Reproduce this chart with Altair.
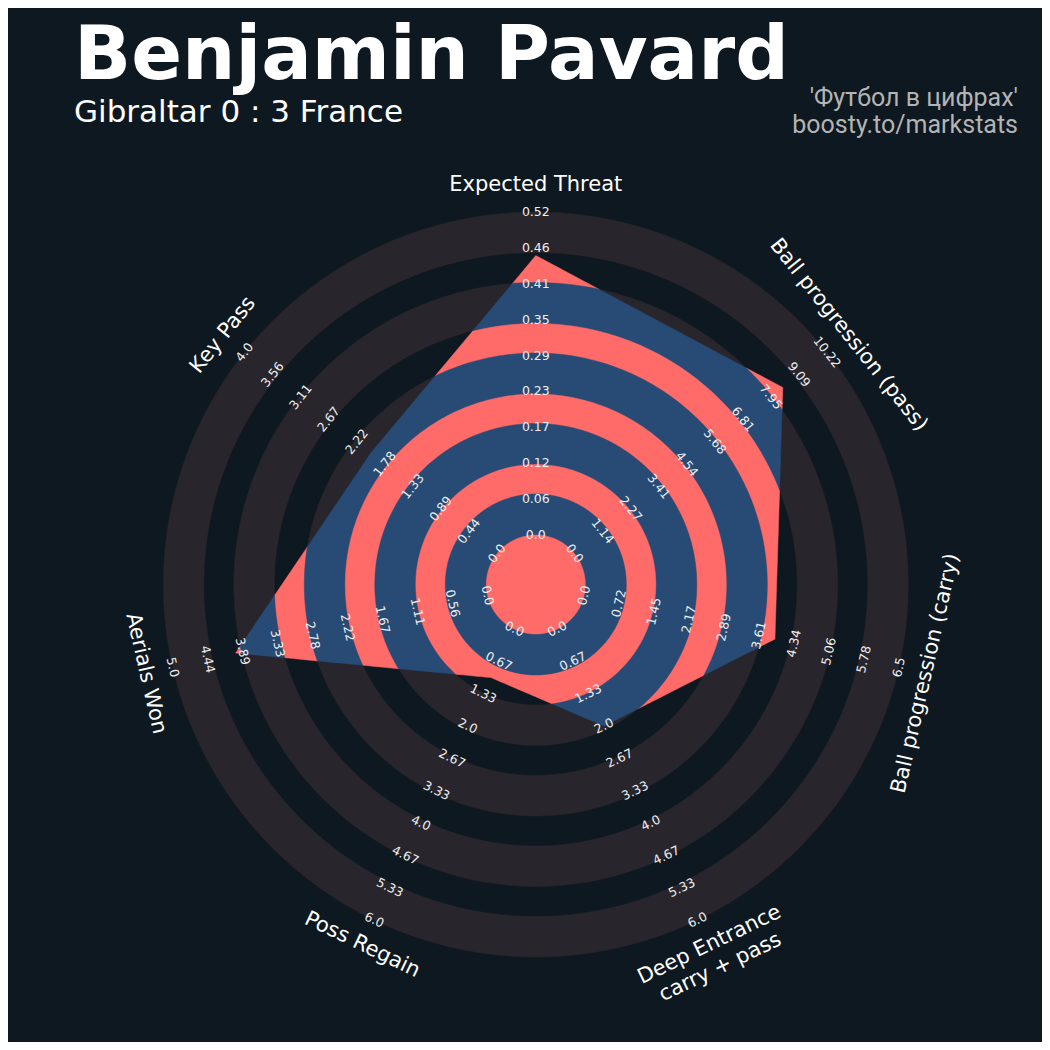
import math
import numpy as np
import pandas as pd
import altair as alt

# ---------------- data ----------------
PARAMS = ["Expected Threat", "Ball progression (pass)", "Ball progression (carry)",
          "Deep Entrance\ncarry + pass", "Poss Regain", "Aerials Won", "Key Pass"]
LOW = [0, 0, 0, 0, 0, 0, 0]
HIGH = [0.52, 10.22, 6.5, 6.0, 6.0, 5.0, 4.0]
VALUES = [0.45, 8.43, 3.94, 2.0, 1.0, 4.0, 2.0]

TICKS_XT = ["0.0", "0.06", "0.12", "0.17", "0.23", "0.29", "0.35", "0.41", "0.46", "0.52"]
TICKS_PASS = ["0.0", "1.14", "2.27", "3.41", "4.54", "5.68", "6.81", "7.95", "9.09", "10.22"]
TICKS_CARRY = ["0.0", "0.72", "1.45", "2.17", "2.89", "3.61", "4.34", "5.06", "5.78", "6.5"]
TICKS_DEEP = ["0.0", "0.67", "1.33", "2.0", "2.67", "3.33", "4.0", "4.67", "5.33", "6.0"]
TICKS_REGAIN = ["0.0", "0.67", "1.33", "2.0", "2.67", "3.33", "4.0", "4.67", "5.33", "6.0"]
TICKS_AERIAL = ["0.0", "0.56", "1.11", "1.67", "2.22", "2.78", "3.33", "3.89", "4.44", "5.0"]
TICKS_KEY = ["0.0", "0.44", "0.89", "1.33", "1.78", "2.22", "2.67", "3.11", "3.56", "4.0"]
TICKS = [TICKS_XT, TICKS_PASS, TICKS_CARRY, TICKS_DEEP, TICKS_REGAIN, TICKS_AERIAL, TICKS_KEY]

TITLE = "Benjamin Pavard"
SUBTITLE = "Gibraltar 0 : 3 France"
CREDIT_1 = "'Футбол в цифрах'"
CREDIT_2 = "boosty.to/markstats"

# ---------------- style / geometry ----------------
W = H = 1034
CX, CY = 527.8, 576.5          # radar centre inside the view
R_IN, R_OUT = 49.5, 372.5       # value 0 and value max radii
RING_EDGES = [372.5, 331.5, 302.0, 261.0, 231.5, 190.5, 161.0, 120.0, 90.5, 49.5]
LABEL_R = 400.0
DELTA = 3.0                     # pull-in of hidden edges (avoids anti-alias fringes)

BG = "#0e1820"
GREY = "#28252c"
NAVY = "#274b75"
PINK = "#ff6b68"

N = len(PARAMS)
STEP = 2 * math.pi / N
ANG = [k * STEP for k in range(N)]
TWO_PI = 2 * math.pi


def to_r(v, lo, hi):
    return R_IN + (v - lo) / (hi - lo) * (R_OUT - R_IN)


verts = []
for k in range(N):
    r = to_r(VALUES[k], LOW[k], HIGH[k])
    verts.append((r * math.sin(ANG[k]), r * math.cos(ANG[k])))


def cross(a, b):
    return a[0] * b[1] - a[1] * b[0]


def rho(t):
    t = t % TWO_PI
    k = int(math.floor(t / STEP + 1e-9)) % N
    P = verts[k]
    Q = verts[(k + 1) % N]
    E = (Q[0] - P[0], Q[1] - P[1])
    d = (math.sin(t), math.cos(t))
    return cross(P, E) / cross(d, E)


# sample angles: regular + vertices + ring/edge crossings
angles = set(np.round(np.radians(np.arange(0, 360, 1.0)), 9).tolist())
angles.update(ANG)
for k in range(N):
    P = verts[k]
    Q = verts[(k + 1) % N]
    E = (Q[0] - P[0], Q[1] - P[1])
    a = E[0] ** 2 + E[1] ** 2
    b = 2 * (P[0] * E[0] + P[1] * E[1])
    for R in RING_EDGES:
        c = P[0] ** 2 + P[1] ** 2 - R * R
        disc = b * b - 4 * a * c
        if disc < 0:
            continue
        for s in ((-b - math.sqrt(disc)) / (2 * a), (-b + math.sqrt(disc)) / (2 * a)):
            if 0 < s < 1:
                x = P[0] + s * E[0]
                y = P[1] + s * E[1]
                angles.add(math.atan2(x, y) % TWO_PI)
angles = sorted(angles)

xscale = alt.Scale(domain=[-CX, W - CX], nice=False, zero=False)
yscale = alt.Scale(domain=[-(H - CY), CY], nice=False, zero=False)


def shape_layer(pts, color, sw):
    xs = [round(r * math.sin(t), 3) for t, r in pts]
    ys = [round(r * math.cos(t), 3) for t, r in pts]
    xs.append(xs[0])
    ys.append(ys[0])
    df = pd.DataFrame({"x": xs, "y": ys, "i": list(range(len(xs)))})
    return alt.Chart(df).mark_line(filled=True, fill=color, stroke=color,
                                   strokeWidth=sw, strokeJoin="miter",
                                   interpolate="linear").encode(
        x=alt.X("x:Q", scale=xscale, axis=None),
        y=alt.Y("y:Q", scale=yscale, axis=None),
        order=alt.Order("i:Q"),
    )


def inner_shape(j):
    R = RING_EDGES[j]
    Rn = RING_EDGES[j + 1] if j + 1 < len(RING_EDGES) else None
    pts = []
    for t in angles:
        p = rho(t)
        if Rn is None:
            pts.append((t, min(R, p)))
        elif abs(p - Rn) < 1e-6:
            if rho(t + 1e-5) < Rn:
                pts += [(t, p), (t, p - DELTA)]
            else:
                pts += [(t, p - DELTA), (t, p)]
        elif p < Rn:
            pts.append((t, p - DELTA))
        else:
            pts.append((t, min(R, p)))
    return pts


layers = []
# rings outside the radar
for j, R in enumerate(RING_EDGES):
    layers.append(shape_layer([(t, R) for t in angles], GREY if j % 2 == 0 else BG, 0.4))
# radar polygon with rings clipped inside
for j, R in enumerate(RING_EDGES):
    layers.append(shape_layer(inner_shape(j), NAVY if j % 2 == 0 else PINK, 0.5))


def text_rot(theta_deg):
    if 90 < theta_deg < 270:
        return theta_deg - 180
    return theta_deg


# value labels
rows = []
for k in range(N):
    th = ANG[k]
    rot = text_rot(math.degrees(th)) % 360
    for i, lab in enumerate(TICKS[k]):
        r = R_IN + i / 9 * (R_OUT - R_IN)
        rows.append({"x": r * math.sin(th), "y": r * math.cos(th), "t": lab, "a": rot})
ticks_df = pd.DataFrame(rows)
layers.append(alt.Chart(ticks_df).mark_text(font="DejaVu Sans", fontSize=12.5, color="#eeeeee",
                                            align="center", baseline="middle").encode(
    x=alt.X("x:Q", scale=xscale, axis=None),
    y=alt.Y("y:Q", scale=yscale, axis=None),
    text="t:N",
    angle=alt.Angle("a:Q", scale=None),
))

# parameter labels
prow = []
for k in range(N):
    th = ANG[k]
    prow.append({"x": LABEL_R * math.sin(th), "y": LABEL_R * math.cos(th), "t": PARAMS[k],
                 "a": text_rot(math.degrees(th)) % 360})
par_df = pd.DataFrame(prow)
layers.append(alt.Chart(par_df).mark_text(font="DejaVu Sans", fontSize=21, color="#ffffff",
                                          align="center", baseline="middle",
                                          lineBreak="\n", lineHeight=25).encode(
    x=alt.X("x:Q", scale=xscale, axis=None),
    y=alt.Y("y:Q", scale=yscale, axis=None),
    text="t:N",
    angle=alt.Angle("a:Q", scale=None),
))

# titles
layers.append(alt.Chart(pd.DataFrame({"t": [TITLE]})).mark_text(
    font="DejaVu Sans", fontWeight="bold", fontSize=75, color="#ffffff",
    align="left", baseline="alphabetic").encode(
    text="t:N", x=alt.value(66), y=alt.value(71)))
layers.append(alt.Chart(pd.DataFrame({"t": [SUBTITLE]})).mark_text(
    font="DejaVu Sans", fontSize=31, color="#ffffff",
    align="left", baseline="alphabetic").encode(
    text="t:N", x=alt.value(66), y=alt.value(114)))
layers.append(alt.Chart(pd.DataFrame({"t": [CREDIT_1]})).mark_text(
    font="Roboto", fontSize=25, color="#b4b4b4",
    align="right", baseline="alphabetic").encode(
    text="t:N", x=alt.value(1010), y=alt.value(98)))
layers.append(alt.Chart(pd.DataFrame({"t": [CREDIT_2]})).mark_text(
    font="Roboto", fontSize=25, color="#b4b4b4",
    align="right", baseline="alphabetic").encode(
    text="t:N", x=alt.value(1010), y=alt.value(125)))

chart = alt.layer(*layers).properties(
    width=W, height=H, padding=0, autosize="none", background=BG
).configure_view(strokeWidth=0)

chart.save("out.html", embed_options={"renderer": "svg", "actions": False})
